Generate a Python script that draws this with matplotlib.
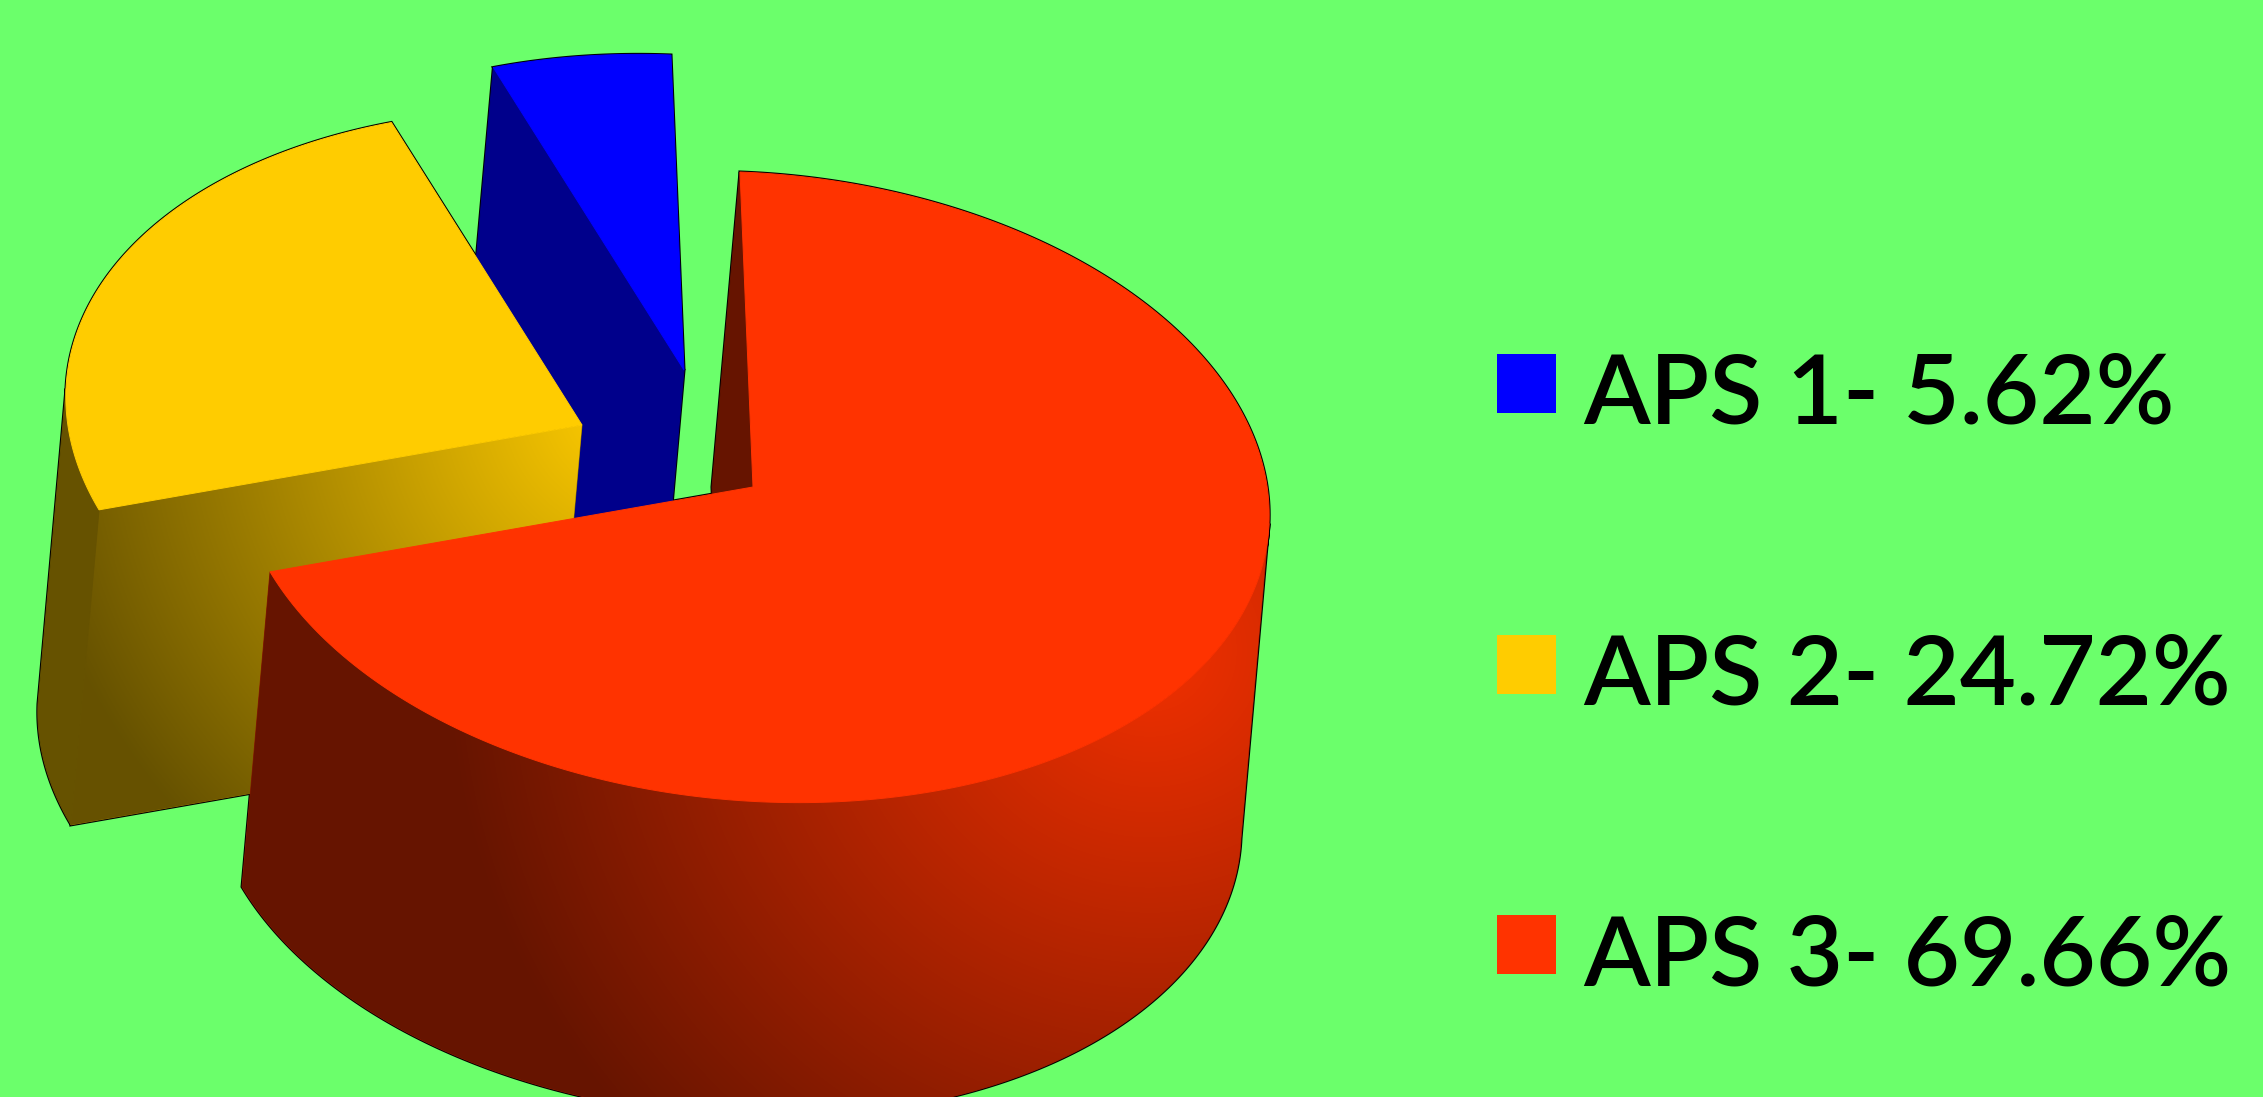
import matplotlib
matplotlib.use('Agg')
import matplotlib.pyplot as plt
from matplotlib.patches import Polygon, Rectangle
import numpy as np

labels = ['APS 1', 'APS 2', 'APS 3']
shares = [5.62, 24.72, 69.66]
colors = ['#0000FF', '#FFCC00', '#FF3300']
dark_colors = ['#00008B', '#665200', '#661400']

W, H = 2263, 1097
bg = '#6BFF6B'

# 3d look: a tilted disc, every slice pulled off the middle on its own
hub = {'APS 1': (684, 370), 'APS 2': (582, 425), 'APS 3': (753, 487)}
ex, ey = -28, 315
ax_x, bx_x, ax_y, bx_y = 516, -13, 20, -315


def rim(name, t):
    t = np.radians(np.asarray(t, dtype=float))
    cx, cy = hub[name]
    return np.column_stack([cx + ax_x*np.sin(t) + bx_x*np.cos(t),
                            cy + ax_y*np.sin(t) + bx_y*np.cos(t)])


def down(pts):
    return pts + np.array([ex, ey])


def cut_face(name, t):
    top = np.vstack([[hub[name]], rim(name, [t])])
    return np.vstack([top, down(top)[::-1]])


def arc_side(name, t0, t1):
    pts = rim(name, np.linspace(t0, t1, 200))
    return np.vstack([pts, down(pts)[::-1]])


def top_face(name, t0, t1):
    return np.vstack([[hub[name]], rim(name, np.linspace(t0, t1, 300))])


def flat(ax, poly, color, z):
    # thin edge in the own colour so no black shows in the seams
    ax.add_patch(Polygon(poly, closed=True, fc=color, ec=color, lw=.7, zorder=z))


def glow(ax, poly, color, center, slope, z):
    # side shading, brightest around center and fading with distance
    xx, yy = np.meshgrid(np.arange(W) + .5, np.arange(H) + .5)
    d = np.hypot(xx - center[0], yy - center[1])
    f = np.clip(slope[0] - slope[1]*d, .4, 1)
    rgb = np.dstack([f*c for c in matplotlib.colors.to_rgb(color)])
    im = ax.imshow(rgb, extent=(0, W, H, 0), aspect='auto', zorder=z, interpolation='bilinear')
    im.set_clip_path(Polygon(poly, closed=True, transform=ax.transData))


# red runs clockwise from twelve o'clock, then yellow, then blue
ends = 360*np.cumsum(shares[::-1])/sum(shares)
red_end, yellow_end = ends[0], ends[1]

blue_cut = cut_face('APS 1', yellow_end)
blue_top = top_face('APS 1', yellow_end, 360)
yellow_front = cut_face('APS 2', red_end)
yellow_arc = arc_side('APS 2', red_end, 273)  # stops where the rim turns away
yellow_top = top_face('APS 2', red_end, yellow_end)
red_cut = cut_face('APS 3', 0)
red_arc = arc_side('APS 3', 93, red_end)
red_top = top_face('APS 3', 0, red_end)

fig = plt.figure(figsize=(W/100, H/100), dpi=100, facecolor=bg)
ax = fig.add_axes([0, 0, 1, 1])
ax.set_facecolor(bg)

# black rim first, the fills then cover all of it but the outer edge
for poly in [blue_cut, blue_top, yellow_front, yellow_arc, yellow_top, red_cut, red_arc, red_top]:
    ax.add_patch(Polygon(poly, closed=True, fc='black', ec='black', lw=2.2, zorder=1))

flat(ax, blue_cut, dark_colors[0], 2)
flat(ax, blue_top, colors[0], 3)

flat(ax, yellow_front, '#8A6E00', 4)
flat(ax, yellow_arc, dark_colors[1], 6)
glow(ax, yellow_front, colors[1], (640, 400), (1.02, .001), 5)
flat(ax, yellow_top, colors[1], 7)

flat(ax, red_cut, dark_colors[2], 8)
flat(ax, red_arc, '#8A1C00', 9)
glow(ax, red_arc, colors[2], (1150, 650), (.95, .00078), 10)
flat(ax, red_top, colors[2], 11)

# legend
for i in range(len(labels)):
    y = 354 + i*280.5
    ax.add_patch(Rectangle((1497, y), 59, 59, fc=colors[i], ec='none', zorder=12))
    ax.text(1583, y + 70, labels[i] + '- ' + str(shares[i]) + '%', family='Lato', weight='semibold',
            fontsize=70, color='black', ha='left', va='baseline', zorder=12)

ax.set_xlim(0, W)
ax.set_ylim(H, 0)
ax.axis('off')
fig.savefig('out.png', dpi=100, facecolor=bg)
